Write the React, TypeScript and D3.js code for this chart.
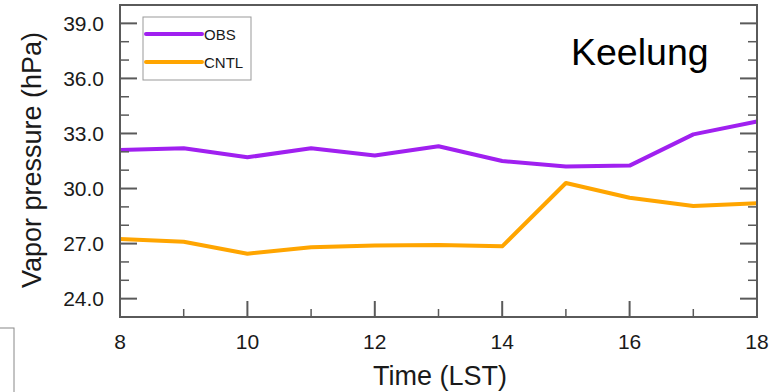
import React from "react";
import * as d3 from "d3";

// Hourly local times (LST)
const hours = [8, 9, 10, 11, 12, 13, 14, 15, 16, 17, 18];
// Observed vapor pressure (hPa)
const obs = [32.1, 32.2, 31.7, 32.2, 31.8, 32.3, 31.5, 31.2, 31.25, 32.95, 33.65];
// Control run vapor pressure (hPa)
const cntl = [27.25, 27.1, 26.45, 26.8, 26.9, 26.92, 26.85, 30.3, 29.5, 29.05, 29.2];

const yTicks = [24, 27, 30, 33, 36, 39];
const yMinor = [23, 25, 26, 28, 29, 31, 32, 34, 35, 37, 38, 40];
const xTicks = [8, 10, 12, 14, 16, 18];
const xMinor = [9, 11, 13, 15, 17];

const seriesNames = ["OBS", "CNTL"];
const seriesColors = ["#a020f0", "#ffa500"];
const station = "Keelung";

const W = 778;
const H = 392;
const left = 120;
const right = 757;
const top = 5;
const bottom = 317;
const font = "'Liberation Sans', Arial, Helvetica, sans-serif";
const axisColor = "#5a5a5a";
const textColor = "#1a1a1a";

export default function App() {
  const x = d3.scaleLinear().domain([8, 18]).range([left, right]);
  const y = d3.scaleLinear().domain([23, 40]).range([bottom, top]);
  const line = d3
    .line<number>()
    .x((_, i) => x(hours[i]))
    .y((d) => y(d));

  const series = [obs, cntl];

  return (
    <svg
      width={W}
      height={H}
      style={{ position: "absolute", left: 0, top: 0, background: "#fff" }}
      fontFamily={font}
    >
      <rect x={0} y={0} width={W} height={H} fill="#fff" />
      {/* stray box at lower left */}
      <rect x={-20} y={328} width={34} height={80} fill="none" stroke="#888" strokeWidth={1} />

      {/* data lines */}
      {series.map((s, k) => (
        <path
          key={seriesNames[k]}
          d={line(s) ?? ""}
          fill="none"
          stroke={seriesColors[k]}
          strokeWidth={4}
          strokeLinejoin="round"
        />
      ))}

      {/* frame */}
      <rect
        x={left}
        y={top}
        width={right - left}
        height={bottom - top}
        fill="none"
        stroke={axisColor}
        strokeWidth={2}
      />

      {/* y ticks, left and right, inward */}
      {yTicks.map((t) => (
        <g key={"yt" + t}>
          <line x1={left} x2={left + 17} y1={y(t)} y2={y(t)} stroke={axisColor} strokeWidth={2} />
          <line x1={right} x2={right - 17} y1={y(t)} y2={y(t)} stroke={axisColor} strokeWidth={2} />
          <text
            x={left - 16}
            y={y(t)}
            dy="0.36em"
            textAnchor="end"
            fontSize={21}
            fill={textColor}
          >
            {d3.format(".1f")(t)}
          </text>
        </g>
      ))}
      {yMinor.map((t) => (
        <g key={"ym" + t}>
          <line x1={left} x2={left + 9} y1={y(t)} y2={y(t)} stroke={axisColor} strokeWidth={1.5} />
          <line x1={right} x2={right - 9} y1={y(t)} y2={y(t)} stroke={axisColor} strokeWidth={1.5} />
        </g>
      ))}

      {/* x ticks */}
      {xTicks.map((t) => (
        <g key={"xt" + t}>
          <line x1={x(t)} x2={x(t)} y1={bottom} y2={bottom - 16} stroke={axisColor} strokeWidth={2} />
          <text x={x(t)} y={348.5} textAnchor="middle" fontSize={21} fill={textColor}>
            {t}
          </text>
        </g>
      ))}
      {xMinor.map((t) => (
        <line key={"xm" + t} x1={x(t)} x2={x(t)} y1={bottom} y2={bottom - 8} stroke={axisColor} strokeWidth={1.5} />
      ))}

      {/* axis titles */}
      <text x={440} y={385} textAnchor="middle" fontSize={27} fill={textColor}>
        Time (LST)
      </text>
      <text
        transform={`translate(41,160) rotate(-90)`}
        textAnchor="middle"
        fontSize={27}
        fill={textColor}
      >
        Vapor pressure (hPa)
      </text>

      {/* legend */}
      <rect x={143} y={17} width={108} height={63} fill="#fff" stroke="#999" strokeWidth={1} />
      {seriesNames.map((n, k) => (
        <g key={"lg" + n}>
          <line
            x1={146}
            x2={202}
            y1={34 + k * 28}
            y2={34 + k * 28}
            stroke={seriesColors[k]}
            strokeWidth={4}
            strokeLinecap="round"
          />
          <text x={204} y={39.5 + k * 28} fontSize={15} fill={textColor}>
            {n}
          </text>
        </g>
      ))}

      {/* station name */}
      <text x={571} y={65} fontSize={37.5} fill="#000">
        {station}
      </text>
    </svg>
  );
}
